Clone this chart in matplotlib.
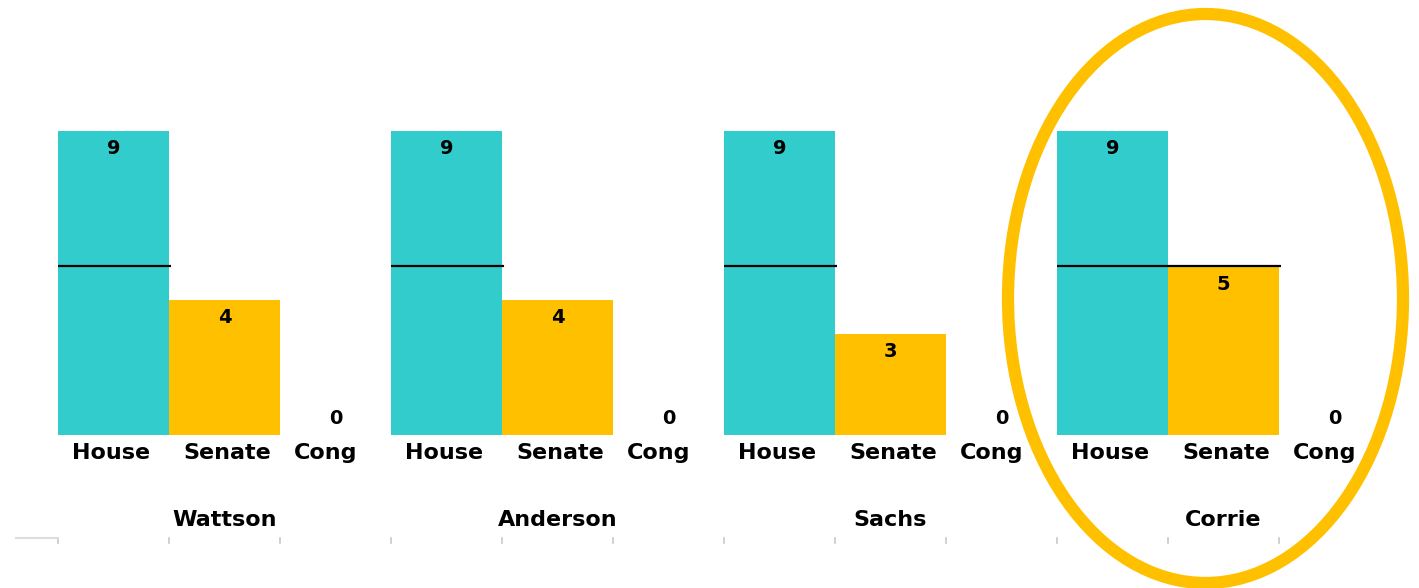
import matplotlib.pyplot as plt
import matplotlib.patches as mpatches
from matplotlib.lines import Line2D

members = ["Wattson", "Anderson", "Sachs", "Corrie"]
chambers = ["House", "Senate", "Cong"]
house = [9, 9, 9, 9]
senate = [4, 4, 3, 5]
cong = [0, 0, 0, 0]
target = 5
target_span = [1, 1, 1, 2]  # how many bars the target line covers

teal = "#33CCCC"
gold = "#FFC000"

W, H = 1419, 588
fig = plt.figure(figsize=(W / 100, H / 100), dpi=100)
ax = fig.add_axes([58 / W, (H - 435) / H, 1332 / W, 304 / H])
ax.set_xlim(0, 12)
ax.set_ylim(0, 9)
ax.axis("off")

font = dict(fontfamily="DejaVu Sans", fontweight="bold", color="black")

for g, name in enumerate(members):
    vals = [house[g], senate[g], cong[g]]
    cols = [teal, gold, "none"]
    for j, v in enumerate(vals):
        x = 3 * g + j
        ax.bar(x + 0.5, v, width=1.0, color=cols[j], linewidth=0, zorder=2)
        off = -18 if v > 0 else 17
        ax.annotate(str(v), (x + 0.5, v), xytext=(0, off), textcoords="offset pixels",
                    ha="center", va="center", fontsize=14, **font)
        ax.annotate(chambers[j], (x, 0), xytext=(14, -18), textcoords="offset pixels",
                    ha="left", va="center", fontsize=16, annotation_clip=False, **font)
    ax.annotate(name, (3 * g + 1.5, 0), xytext=(0, -85), textcoords="offset pixels",
                ha="center", va="center", fontsize=16, annotation_clip=False, **font)
    ax.plot([3 * g, 3 * g + target_span[g] + 0.02], [target, target], color="black",
            linewidth=1.6, zorder=3, solid_capstyle="butt")

# faint tick marks on the category boundaries
for k in range(12):
    px = 58 + k * 111
    fig.add_artist(Line2D([px / W, px / W], [(H - 538) / H, (H - 543) / H],
                          color="#c8c8c8", linewidth=1.2))
fig.add_artist(Line2D([16 / W, 58 / W], [(H - 538) / H, (H - 538) / H],
                      color="#dddddd", linewidth=1.5))

# highlight ring around the last member
ring = mpatches.Ellipse((1205.5 / W, (H - 298.5) / H), 395 / W, 569 / H,
                        transform=fig.transFigure, fill=False, edgecolor=gold,
                        linewidth=8.8)
fig.add_artist(ring)

fig.savefig("out.png", dpi=100, facecolor="white")
